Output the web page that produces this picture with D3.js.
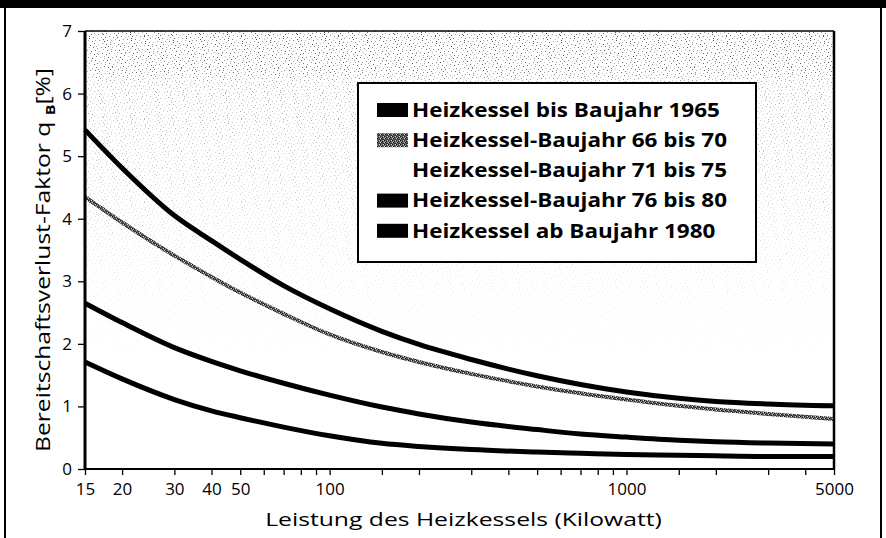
<!DOCTYPE html>
<html><head><meta charset="utf-8">
<script src="https://cdn.jsdelivr.net/npm/d3@7/dist/d3.min.js"></script>
<style>body{margin:0;background:#fff}svg{display:block}</style>
</head><body>
<svg id="chart" width="886" height="538"></svg>
<script>
// ---- data ----
const leistung = [15, 20, 30, 40, 50, 70, 100, 150, 200, 300, 500, 700, 1000, 1500, 2000, 3000, 5000];
const bis1965   = [5.42, 4.81, 4.05, 3.65, 3.35, 2.93, 2.56, 2.20, 1.99, 1.75, 1.49, 1.35, 1.23, 1.13, 1.08, 1.04, 1.01];
const bj66bis70 = [4.35, 3.94, 3.41, 3.07, 2.82, 2.48, 2.15, 1.87, 1.71, 1.52, 1.32, 1.21, 1.11, 1.01, 0.95, 0.88, 0.80];
const bj76bis80 = [2.65, 2.34, 1.94, 1.72, 1.57, 1.37, 1.18, 0.99, 0.88, 0.75, 0.63, 0.56, 0.51, 0.46, 0.435, 0.414, 0.40];
const ab1980    = [1.71, 1.44, 1.11, 0.93, 0.82, 0.67, 0.53, 0.41, 0.36, 0.31, 0.27, 0.25, 0.23, 0.22, 0.21, 0.20, 0.20];
const legendLabels = ["Heizkessel bis Baujahr 1965", "Heizkessel-Baujahr 66 bis 70", "Heizkessel-Baujahr 71 bis 75", "Heizkessel-Baujahr 76 bis 80", "Heizkessel ab Baujahr 1980"];
const xTickLabels = [15, 20, 30, 40, 50, 100, 1000, 5000];
const xMinorTicks = [60, 70, 80, 90, 150, 200, 300, 400, 500, 600, 700, 800, 900, 1500, 2000, 3000, 4000];
const yTicks = [0, 1, 2, 3, 4, 5, 6, 7];
const xTitle = "Leistung des Heizkessels (Kilowatt)";
const yTitleMain = "Bereitschaftsverlust-Faktor q ";
const yTitleSub = "B";
const yTitleEnd = "[%]";

// ---- layout ----
const svg = d3.select("#chart");
const L = 85, R = 834, T = 31, B = 469;
const x = d3.scaleLog().domain([15, 5000]).range([L, R]);
const y = d3.scaleLinear().domain([0, 7]).range([B, T]);
const font = "'Open Sans', 'Noto Sans', sans-serif";

const defs = svg.append("defs");
// scan-grain texture for the plot background (quasi-uniform R2 sequence), faded downward through a mask
const tileW = 97, tileH = 83;
const dots = defs.append("pattern").attr("id", "dots").attr("patternUnits", "userSpaceOnUse")
  .attr("width", tileW).attr("height", tileH);
const greys = ["#555", "#888", "#999", "#6a6a6a", "#aaa", "#bbb", "#777"];
const a1 = 0.7548776662, a2 = 0.5698402910;
d3.range(700).forEach(i => {
  const px = Math.floor(((0.5 + a1 * i) % 1) * tileW);
  const py = Math.floor(((0.5 + a2 * i) % 1) * tileH);
  dots.append("rect").attr("x", px).attr("y", py)
    .attr("width", 1).attr("height", 1).attr("fill", greys[i % greys.length]);
});
const fade = defs.append("linearGradient").attr("id", "fade").attr("x1", 0).attr("y1", 0).attr("x2", 0).attr("y2", 1);
[[0, 1], [0.09, 0.95], [0.12, 0.55], [0.3, 0.38], [0.5, 0.2], [0.7, 0.05], [0.8, 0]]
  .forEach(([o, a]) => fade.append("stop").attr("offset", o).attr("stop-color", "#fff").attr("stop-opacity", a));
defs.append("mask").attr("id", "fadeMask").attr("maskContentUnits", "userSpaceOnUse")
  .append("rect").attr("x", L).attr("y", T).attr("width", R - L).attr("height", B - T).attr("fill", "url(#fade)");

const hatch = defs.append("pattern").attr("id", "hatch").attr("patternUnits", "userSpaceOnUse")
  .attr("width", 4).attr("height", 4);
hatch.append("rect").attr("width", 4).attr("height", 4).attr("fill", "#606060");
[[0,0,"#111"],[2,1,"#1c1c1c"],[1,2,"#161616"],[3,3,"#2a2a2a"],[3,0,"#d8d8d8"],[0,2,"#c4c4c4"],[2,3,"#3a3a3a"],[1,1,"#a0a0a0"]]
  .forEach(([a, b, c]) => hatch.append("rect").attr("x", a).attr("y", b).attr("width", 1).attr("height", 1).attr("fill", c));

// outer frame
svg.append("rect").attr("x", 0).attr("y", 0).attr("width", 886).attr("height", 8).attr("fill", "#000");
svg.append("line").attr("x1", 5).attr("x2", 5).attr("y1", 0).attr("y2", 538).attr("stroke", "#000").attr("stroke-width", 2);
svg.append("line").attr("x1", 881).attr("x2", 881).attr("y1", 0).attr("y2", 538).attr("stroke", "#000").attr("stroke-width", 2);

// plot background
svg.append("rect").attr("x", L).attr("y", T).attr("width", R - L).attr("height", B - T).attr("fill", "#fff");
svg.append("rect").attr("x", L).attr("y", T).attr("width", R - L).attr("height", B - T)
  .attr("fill", "url(#dots)").attr("mask", "url(#fadeMask)");

// axes
const yAxis = d3.axisLeft(y).tickValues(yTicks).tickSize(7).tickPadding(6).tickFormat(d3.format("d"));
const yg = svg.append("g").attr("transform", `translate(${L},0)`).call(yAxis);
yg.select(".domain").remove();
yg.selectAll(".tick line").attr("stroke", "#000").attr("stroke-width", 1.3);
yg.selectAll("text").attr("font-family", font).attr("font-size", 17).attr("fill", "#000");

const xAxis = d3.axisBottom(x).tickValues(xTickLabels).tickSize(6).tickPadding(8).tickFormat(d3.format("d"));
const xg = svg.append("g").attr("transform", `translate(0,${B})`).call(xAxis);
xg.select(".domain").remove();
xg.selectAll(".tick line").attr("stroke", "#000").attr("stroke-width", 1.3);
xg.selectAll("text").attr("font-family", font).attr("font-size", 17).attr("fill", "#000");
const xm = d3.axisBottom(x).tickValues(xMinorTicks).tickSize(6).tickFormat("");
const xmg = svg.append("g").attr("transform", `translate(0,${B})`).call(xm);
xmg.select(".domain").remove();
xmg.selectAll(".tick line").attr("stroke", "#000").attr("stroke-width", 1.3);

// curves
const line = d3.line().x((d, i) => x(leistung[i])).y(d => y(d)).curve(d3.curveMonotoneX);
const series = [
  {v: bis1965, stroke: "#000", w: 5},
  {v: bj76bis80, stroke: "#000", w: 5},
  {v: ab1980, stroke: "#000", w: 5},
  {v: bj66bis70, stroke: "url(#hatch)", w: 4}
];
series.forEach(s => {
  svg.append("path").attr("d", line(s.v)).attr("fill", "none")
    .attr("stroke", s.stroke).attr("stroke-width", s.w).attr("stroke-linecap", "butt");
});

// plot frame
svg.append("line").attr("x1", L).attr("x2", R).attr("y1", T).attr("y2", T).attr("stroke", "#000").attr("stroke-width", 1.5);
svg.append("line").attr("x1", R).attr("x2", R).attr("y1", T).attr("y2", B).attr("stroke", "#000").attr("stroke-width", 2.5);
svg.append("line").attr("x1", L).attr("x2", R).attr("y1", B).attr("y2", B).attr("stroke", "#000").attr("stroke-width", 2);
svg.append("line").attr("x1", L).attr("x2", L).attr("y1", T).attr("y2", B).attr("stroke", "#000").attr("stroke-width", 3);

// horizontal stretch factor so the type matches the wide scanned lettering
function widen(textSel, target) {
  return target / textSel.node().getComputedTextLength();
}

// legend
const lg = svg.append("g");
lg.append("rect").attr("x", 358).attr("y", 83).attr("width", 398).attr("height", 179)
  .attr("fill", "#fff").attr("stroke", "#000").attr("stroke-width", 2);
const swFill = ["#000", "url(#hatch)", "#fff", "#000", "#000"];
let kLeg = 1;
legendLabels.forEach((t, i) => {
  const cy = 110 + i * 30.2;
  lg.append("rect").attr("x", 377).attr("y", cy - 7).attr("width", 31).attr("height", 14).attr("fill", swFill[i]);
  const tg = lg.append("g");
  const tx = tg.append("text").attr("x", 0).attr("y", 0).attr("dy", "0.36em")
    .attr("font-family", font).attr("font-weight", 700).attr("font-size", 19).attr("fill", "#000").text(t);
  if (i === 0) kLeg = widen(tx, 308);
  tg.attr("transform", `translate(412,${cy}) scale(${kLeg},1)`);
});

// axis titles
const xtG = svg.append("g");
const xtT = xtG.append("text").attr("text-anchor", "middle")
  .attr("font-family", font).attr("font-size", 19).attr("fill", "#000").text(xTitle);
xtG.attr("transform", `translate(463.5,526) scale(${widen(xtT, 397)},1)`);

const ytG = svg.append("g");
const yt = ytG.append("text").attr("text-anchor", "middle")
  .attr("font-family", font).attr("font-size", 20).attr("fill", "#000");
yt.append("tspan").text(yTitleMain);
yt.append("tspan").attr("font-size", 13).attr("dy", 5).attr("font-weight", 700).text(yTitleSub);
yt.append("tspan").attr("dy", -5).text(yTitleEnd);
const ytW = yt.node().getBBox().width;
ytG.attr("transform", `translate(50,260) rotate(-90) scale(${384 / ytW},1)`);
</script>
</body></html>
